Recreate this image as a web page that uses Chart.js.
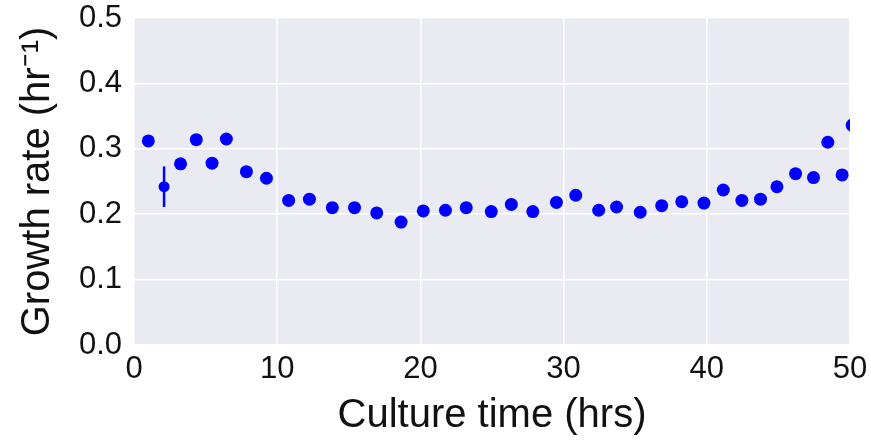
<!DOCTYPE html>
<html>
<head>
<meta charset="utf-8">
<script src="https://cdn.jsdelivr.net/npm/chart.js@4"></script>
<style>
  html, body { margin: 0; padding: 0; background: #fff; }
  #wrap { width: 871px; height: 442px; }
</style>
</head>
<body>
<div id="wrap"><canvas id="growth" width="871" height="442"></canvas></div>
<script>
// ===== Data =====
const cultureTime = [1.0, 2.1, 3.25, 4.35, 5.45, 6.45, 7.85, 9.25, 10.8, 12.25, 13.85, 15.4, 16.95,
  18.65, 20.2, 21.75, 23.2, 24.95, 26.35, 27.85, 29.5, 30.85, 32.45, 33.7, 35.35, 36.85, 38.25,
  39.8, 41.15, 42.45, 43.75, 44.9, 46.2, 47.45, 48.45, 49.45, 50.15];
const growthRate = [0.312, 0.242, 0.277, 0.314, 0.278, 0.315, 0.265, 0.255, 0.221, 0.223, 0.210, 0.210, 0.202,
  0.188, 0.205, 0.206, 0.210, 0.204, 0.215, 0.204, 0.218, 0.229, 0.206, 0.211, 0.203, 0.213, 0.219,
  0.217, 0.237, 0.221, 0.223, 0.242, 0.262, 0.256, 0.310, 0.260, 0.336];
const rateError = [0, 0.031, 0, 0, 0, 0, 0, 0, 0, 0, 0, 0, 0,
  0, 0, 0, 0, 0, 0, 0, 0, 0, 0, 0, 0, 0, 0,
  0, 0, 0, 0, 0, 0, 0, 0, 0, 0];
const xTicks = [0, 10, 20, 30, 40, 50];
const yTicks = [0.0, 0.1, 0.2, 0.3, 0.4, 0.5];

const FONT = "'Liberation Sans', Arial, Helvetica, sans-serif";
const BLUE = "#0000ff";

// ===== Plugins =====
const plotBackground = {
  id: "plotBackground",
  beforeDraw(chart) {
    const { ctx, chartArea: a } = chart;
    ctx.save();
    ctx.fillStyle = "#eaeaf2";
    ctx.fillRect(a.left, a.top, a.right - a.left, a.bottom - a.top);
    ctx.restore();
  }
};

const errorBars = {
  id: "errorBars",
  beforeDatasetsDraw(chart) {
    const { ctx, scales: { x, y } } = chart;
    ctx.save();
    ctx.strokeStyle = BLUE;
    ctx.lineWidth = 2.5;
    rateError.forEach((err, i) => {
      if (!err) return;
      const px = x.getPixelForValue(cultureTime[i]);
      ctx.beginPath();
      ctx.moveTo(px, y.getPixelForValue(growthRate[i] - err));
      ctx.lineTo(px, y.getPixelForValue(growthRate[i] + err));
      ctx.stroke();
    });
    ctx.restore();
  }
};

const points = cultureTime.map((t, i) => ({ x: t, y: growthRate[i] }));

new Chart(document.getElementById("growth"), {
  type: "scatter",
  data: {
    datasets: [{
      data: points,
      backgroundColor: BLUE,
      borderColor: BLUE,
      borderWidth: 0,
      pointRadius: rateError.map(e => e ? 5.5 : 6.5),
      clip: 0
    }]
  },
  options: {
    responsive: false,
    animation: false,
    devicePixelRatio: 1,
    layout: { padding: { top: 18, right: 21, bottom: 0, left: 0 } },
    plugins: { legend: { display: false }, tooltip: { enabled: false } },
    scales: {
      x: {
        type: "linear",
        min: 0, max: 50,
        afterFit(scale) {
          scale.height = 97;
          scale.paddingLeft = 0;
          scale.paddingRight = 0;
        },
        afterBuildTicks(scale) { scale.ticks = xTicks.map(v => ({ value: v })); },
        grid: { color: "#ffffff", lineWidth: 1.5, drawTicks: false },
        border: { display: false },
        ticks: { color: "#111", padding: 6, font: { family: FONT, size: 31 } },
        title: {
          display: true, text: "Culture time (hrs)", color: "#111",
          font: { family: FONT, size: 40 }, padding: { top: 4, bottom: 2 }
        }
      },
      y: {
        min: 0, max: 0.5,
        afterFit(scale) {
          scale.width = 134;
          scale.paddingTop = 0;
          scale.paddingBottom = 0;
        },
        afterBuildTicks(scale) { scale.ticks = yTicks.map(v => ({ value: v })); },
        grid: { color: "#ffffff", lineWidth: 1.5, drawTicks: false },
        border: { display: false },
        ticks: {
          color: "#111", padding: 12, font: { family: FONT, size: 31 },
          callback: v => v.toFixed(1)
        },
        title: {
          display: true, text: "Growth rate (hr\u207B\u00B9)", color: "#111",
          font: { family: FONT, size: 40 }, padding: { top: 14, bottom: 0 }
        }
      }
    }
  },
  plugins: [plotBackground, errorBars]
});
</script>
</body>
</html>
